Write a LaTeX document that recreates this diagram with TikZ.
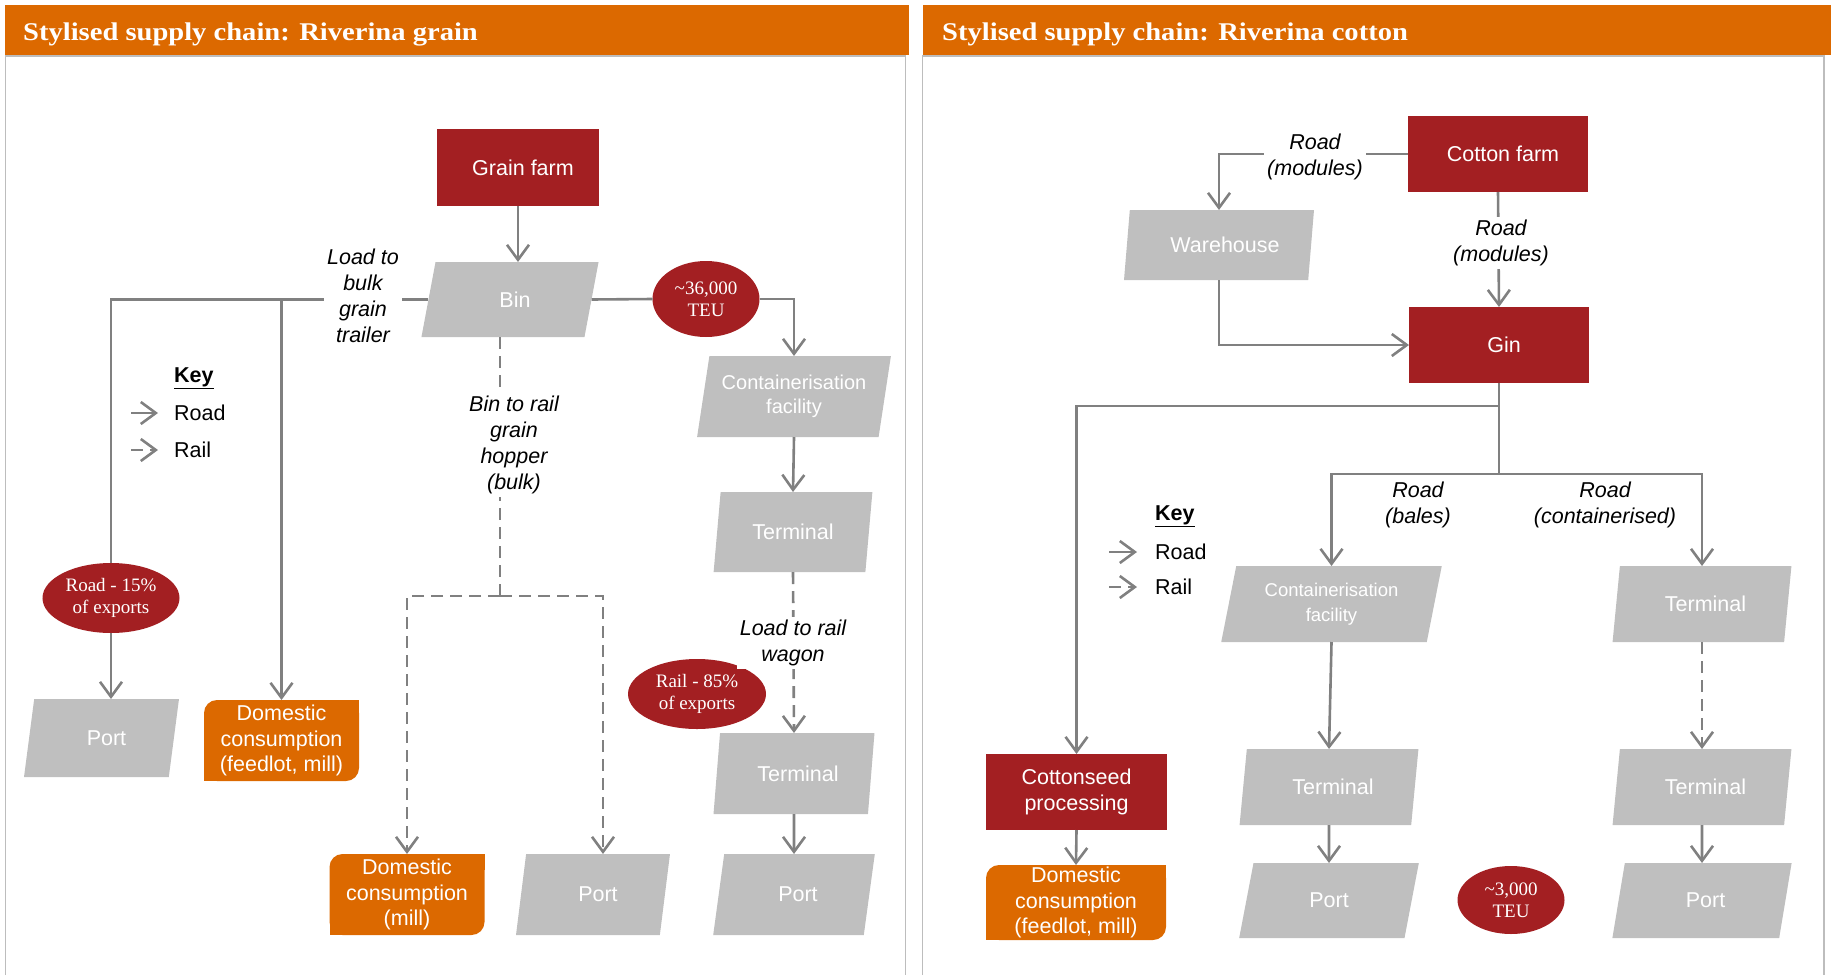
\documentclass[tikz,border=0pt]{standalone}
\usepackage{fontspec}
\setmainfont{Liberation Sans}
\newfontfamily\georgia{Liberation Serif}
\newfontfamily\widegeorgia[FakeStretch=1.12]{Liberation Serif}
\usepackage{tikz}
\usetikzlibrary{shapes.geometric,arrows.meta,backgrounds}
\definecolor{pwc red}{HTML}{A31F22}
\definecolor{pwc orange}{HTML}{DC6900}
\definecolor{box grey}{HTML}{BFBFBF}
\definecolor{link grey}{HTML}{808080}
\definecolor{frame grey}{HTML}{BDBDBD}
\newcommand{\boxfont}{\fontsize{21.5bp}{25.8bp}\selectfont}
\newcommand{\smallboxfont}{\fontsize{18.5bp}{25bp}\selectfont}
\newcommand{\ovalfont}{\georgia\fontsize{19bp}{22bp}\selectfont}
\newcommand{\titlefont}{\widegeorgia\bfseries\fontsize{25.5bp}{30bp}\selectfont}

\begin{document}
\begin{tikzpicture}[x=1bp, y=-1bp,
		link/.style={draw=link grey, line width=2.6bp},
		road/.style={link, -{Straight Barb[length=15bp, width=22bp]}},
		rail/.style={road, dash pattern=on 12bp off 7bp},
		railline/.style={link, dash pattern=on 12bp off 7bp},
		nudge/.style={execute at begin node={\hspace*{#1}}},
		farm/.style={rectangle, fill=pwc red, text=white, align=center, font=\boxfont, inner sep=0pt, outer sep=0pt},
		facility/.style={trapezium, trapezium left angle=76, trapezium right angle=104, trapezium stretches=true, fill=box grey, text=white, align=center, font=\boxfont, inner sep=0pt, outer sep=0pt},
		domestic/.style={rectangle, rounded corners=13bp, fill=pwc orange, text=white, align=center, font=\boxfont, inner sep=0pt, outer sep=0pt},
		volume/.style={ellipse, fill=pwc red, text=white, align=center, font=\ovalfont, inner sep=0pt, outer sep=0pt},
		modelabel/.style={fill=white, align=center, font=\boxfont\itshape, inner sep=3bp},
		keytext/.style={anchor=west, font=\boxfont, inner sep=0pt}]
		\useasboundingbox (0,0) rectangle (1831,975);
		% headers and panel frames
		\fill[pwc orange] (5,5) rectangle (909,55);
		\fill[pwc orange] (923,5) rectangle (1831,55);
		\draw[frame grey, line width=1.5bp] (5.5,975) |- (905.5,56) -- (905.5,975);
		\draw[frame grey, line width=1.5bp] (922.5,975) |- (1824,56) -- (1824,975);
		\node[anchor=base west, text=white, font=\titlefont, inner sep=0pt] (titleL) at (23,40) {Stylised supply chain: Riverina grain};
		\node[anchor=base west, text=white, font=\titlefont, inner sep=0pt] (titleR) at (942,40) {Stylised supply chain: Riverina cotton};

		% grain chain
		\node[farm, nudge=10bp, minimum width=162bp, minimum height=77bp] (gfarm) at (518,167.5) {Grain farm};
		\node[facility, nudge=10bp, minimum width=178bp, minimum height=75bp] (bin) at (510,299.5) {Bin};
		\node[volume, minimum width=107bp, minimum height=76bp] (teu36) at (706,299) {\textasciitilde 36,000\\TEU};
		\node[facility, minimum width=194bp, minimum height=81bp, font=\fontsize{20bp}{23.5bp}\selectfont] (cfac) at (794,396.5) {Containerisation\\facility};
		\node[facility, minimum width=160bp, minimum height=80bp] (term1) at (793,532) {Terminal};
		\node[facility, nudge=8bp, minimum width=162bp, minimum height=81bp] (term2) at (794,773.5) {Terminal};
		\node[facility, nudge=8bp, minimum width=162bp, minimum height=81bp] (portR) at (794,894.5) {Port};
		\node[volume, minimum width=138bp, minimum height=70bp] (rail85) at (697,694) {Rail - 85\%\\of exports};
		\node[volume, minimum width=137bp, minimum height=70bp] (road15) at (111,598) {Road - 15\%\\of exports};
		\node[facility, nudge=10bp, minimum width=155bp, minimum height=78bp] (portL) at (101.5,738) {Port};
		\node[domestic, minimum width=155bp, minimum height=81bp] (dom1) at (281.5,740.5) {Domestic\\consumption\\(feedlot, mill)};
		\node[domestic, minimum width=155bp, minimum height=81bp] (dom2) at (407,894.5) {Domestic\\consumption\\(mill)};
		\node[facility, nudge=10bp, minimum width=154bp, minimum height=81bp] (portM) at (593,894.5) {Port};

		\draw[road] (gfarm.south) -- (gfarm.south |- bin.north);
		\draw[link] (bin.west) -| (road15.north);
		\draw[road] (road15.south) -- (road15.south |- portL.north);
		\draw[road] (dom1 |- bin.west) -- (dom1.north);
		\draw[link] (bin.east) -- (teu36.west);
		\draw[road] (teu36.east) -| (cfac.north);
		\draw[road] (cfac.south) -- (term1.north);
		\draw[rail] (term1.south) -- (term2.north);
		\draw[road] (term2.south) -- (portR.north);
		\coordinate (hopper) at (500,596);
		\draw[railline] (bin.south -| hopper) -- (hopper);
		\draw[rail] (hopper) -| (dom2.north);
		\draw[rail] (hopper) -| ([xshift=10bp]portM.north);

		\node[modelabel] (trailer) at (363,296) {Load to\\bulk\\grain\\trailer};
		\node[modelabel] (hopperlbl) at (514,445) {Bin to rail\\grain\\hopper\\(bulk)};
		\node[modelabel] (wagon) at (793,643) {Load to rail\\wagon};

		% key (grain)
		\node[keytext] (keyL) at (174,378) {\underline{\textbf{Key}}};
		\node[keytext] (roadL) at (174,413) {Road};
		\node[keytext] (railL) at (174,450) {Rail};
		\draw[road] ([xshift=-43bp]roadL.west) -- ([xshift=-16bp]roadL.west);
		\draw[rail] ([xshift=-43bp]railL.west) -- ([xshift=-16bp]railL.west);

		% cotton chain
		\node[farm, nudge=10bp, minimum width=180bp, minimum height=76bp] (cfarm) at (1498,154) {Cotton farm};
		\node[facility, nudge=12bp, minimum width=190bp, minimum height=70bp] (wh) at (1219,245) {Warehouse};
		\node[farm, nudge=10bp, minimum width=180bp, minimum height=76bp] (gin) at (1499,345) {Gin};
		\node[farm, minimum width=181bp, minimum height=76bp] (cseed) at (1076.5,792) {Cottonseed\\processing};
		\node[domestic, minimum width=180bp, minimum height=75bp] (dom3) at (1076,902.5) {Domestic\\consumption\\(feedlot, mill)};
		\node[facility, minimum width=221bp, minimum height=76bp, font=\smallboxfont] (cfac2) at (1331.5,604) {Containerisation\\facility};
		\node[facility, nudge=7bp, minimum width=180bp, minimum height=76bp] (termR1) at (1702,604) {Terminal};
		\node[facility, nudge=8bp, minimum width=180bp, minimum height=76bp] (term3) at (1329,787) {Terminal};
		\node[facility, minimum width=180bp, minimum height=75bp] (portC) at (1329,900.5) {Port};
		\node[facility, nudge=7bp, minimum width=180bp, minimum height=76bp] (termR2) at (1702,787) {Terminal};
		\node[facility, nudge=7bp, minimum width=180bp, minimum height=75bp] (portR2) at (1702,900.5) {Port};
		\node[volume, minimum width=107bp, minimum height=68bp] (teu3) at (1511,900) {\textasciitilde 3,000\\TEU};

		\draw[road] (cfarm.west) -| (wh.north);
		\draw[road] (cfarm.south) -- (gin.north);
		\draw[road] (wh.south) |- (gin.west);
		\coordinate (ginsplit) at (gin.south |- 0,474);
		\draw[link] (gin.south) -- (ginsplit);
		\draw[road] (gin.south |- 0,406) -| (cseed.north);
		\draw[road] (ginsplit) -| (cfac2.north);
		\draw[road] (ginsplit) -| (termR1.north);
		\draw[road] (cfac2.south) -- (term3.north);
		\draw[road] (term3.south) -- (portC.north);
		\draw[rail] (termR1.south) -- (termR2.north);
		\draw[road] (termR2.south) -- (portR2.north);
		\draw[road] (cseed.south) -- (dom3.north);

		\node[modelabel] (modA) at (1315,157) {Road\\(modules)};
		\node[modelabel] (modB) at (1501,243) {Road\\(modules)};
		\node[modelabel, fill=none] (bales) at (1418,505) {Road\\(bales)};
		\node[modelabel, fill=none] (boxed) at (1605,505) {Road\\(containerised)};

		% key (cotton)
		\node[keytext] (keyR) at (1155,516) {\underline{\textbf{Key}}};
		\node[keytext] (roadR) at (1155,552) {Road};
		\node[keytext] (railR) at (1155,587) {Rail};
		\draw[road] ([xshift=-46bp]roadR.west) -- ([xshift=-18bp]roadR.west);
		\draw[rail] ([xshift=-46bp]railR.west) -- ([xshift=-18bp]railR.west);

		% square off two corners of the orange boxes
		\begin{scope}[on background layer]
			\foreach \d in {dom1,dom2,dom3} {
				\fill[pwc orange] (\d.south west) rectangle ++(16,-16);
				\fill[pwc orange] (\d.north east) rectangle ++(-16,16);
			}
		\end{scope}
	\end{tikzpicture}
\end{document}
